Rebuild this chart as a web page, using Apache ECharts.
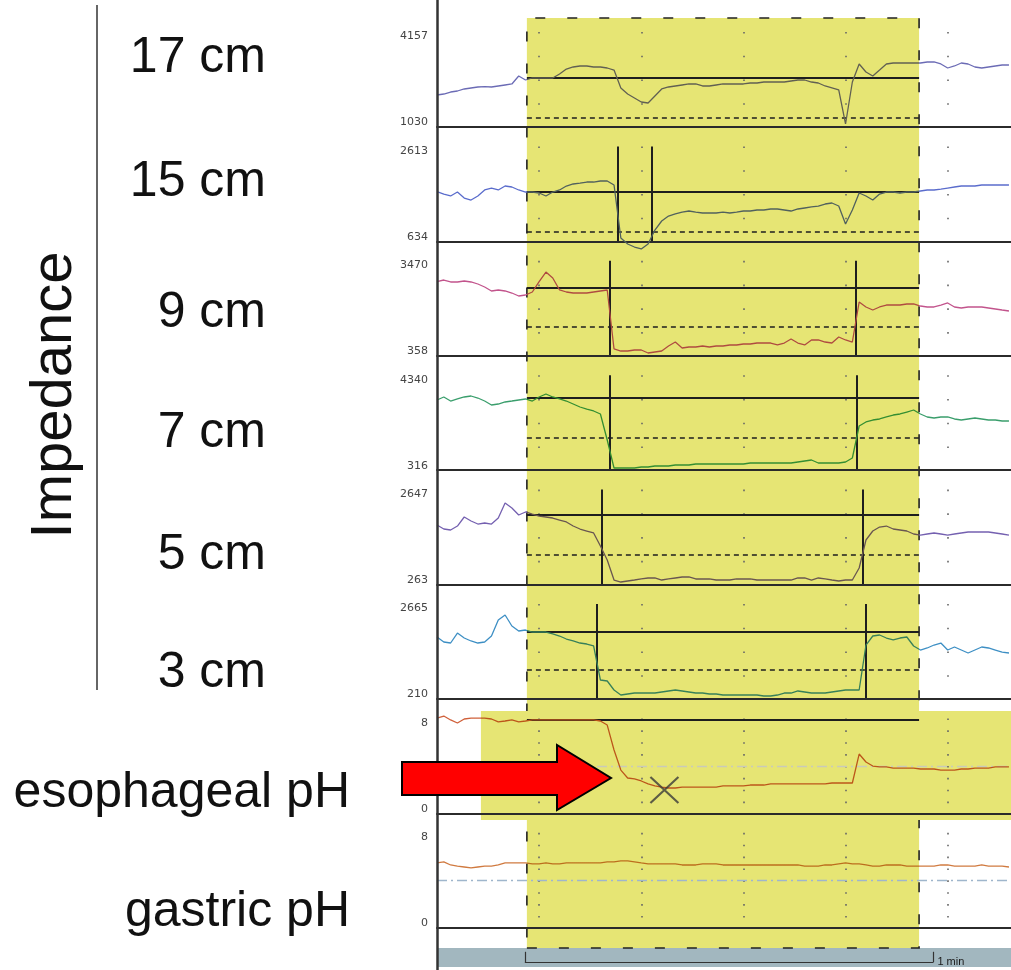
<!DOCTYPE html>
<html><head><meta charset="utf-8">
<script src="https://cdn.jsdelivr.net/npm/echarts@6/dist/echarts.min.js"></script>
<style>html,body{margin:0;padding:0;background:#fff}#c{width:1011px;height:970px}</style>
</head><body><div id="c"></div>
<script>
// ---- data (time in seconds) ----
const time = [0,1,2,3,4,5,6,7,8,9,10,11,12,13,14,15,16,17,18,19,20,21,22,23,24,25,26,27,28,29,30,31,32,33,34,35,36,37,38,39,40,41,42,43,44,45,46,47,48,49,50,51,52,53,54,55,56,57,58,59,60,61,62,63,64,65,66,67,68,69,70,71,72,73,74,75,76,77,78,79,80,81,82,83,84];
const imp17 = [2083,2116,2182,2215,2281,2314,2347,2357,2347,2380,2413,2446,2709,2577,2643,2643,2643,2643,2775,2939,3005,3038,3038,3005,3005,2972,2906,2314,2116,1985,1853,1820,2051,2281,2347,2380,2413,2446,2446,2380,2380,2413,2446,2446,2446,2446,2478,2478,2511,2511,2511,2511,2544,2577,2577,2511,2478,2380,2314,2248,1129,2511,3104,2841,2709,2906,3104,3137,3137,3137,3137,3137,3170,3170,3104,2972,3038,3137,3104,3005,2972,3005,3038,3071,3071];
const imp15 = [1669,1621,1580,1663,1538,1496,1580,1705,1746,1705,1788,1767,1705,1663,1663,1642,1580,1663,1705,1788,1830,1850,1871,1871,1892,1892,1809,705,580,517,476,580,871,1059,1163,1205,1246,1267,1246,1226,1226,1226,1246,1226,1246,1267,1267,1288,1288,1309,1309,1288,1267,1309,1330,1351,1371,1413,1434,1371,996,1288,1642,1580,1496,1621,1663,1663,1642,1663,1663,1684,1705,1705,1725,1746,1767,1788,1788,1788,1809,1809,1809,1809,1809];
const imp9 = [2785,2841,2776,2776,2808,2776,2710,2612,2481,2514,2481,2415,2317,2350,2448,2785,3103,2907,2514,2448,2415,2415,2415,2448,2481,2514,581,515,515,548,548,450,482,515,679,810,614,646,646,679,646,679,679,712,712,745,745,777,777,777,712,777,908,777,712,876,876,810,777,974,876,810,2120,1957,1858,1957,2022,2022,2022,2055,2055,1989,1957,1957,2022,2088,1957,1924,1957,1957,1957,1924,1891,1858,1826];
const imp7 = [3290,3417,3247,3332,3417,3459,3374,3247,3078,3120,3205,3247,3290,3332,3247,3417,3544,3417,3332,3247,3120,2993,2908,2824,2697,1595,409,409,409,409,452,452,494,494,494,536,536,536,579,579,579,579,579,579,579,579,621,621,621,621,621,621,621,663,706,748,621,621,621,621,663,833,2188,2358,2442,2485,2570,2654,2697,2781,2866,2697,2570,2527,2570,2570,2485,2442,2485,2527,2485,2442,2442,2400,2400];
const imp5 = [1758,1658,1633,1733,1959,1859,1783,1809,1783,1934,2310,2185,2009,2085,2034,1984,1959,1934,1884,1834,1733,1658,1608,1558,1231,880,378,328,353,378,404,429,429,378,404,429,454,454,404,404,404,378,378,378,404,404,404,378,378,378,378,378,378,429,429,378,429,404,378,353,378,378,680,1382,1608,1708,1733,1658,1633,1608,1533,1507,1533,1558,1533,1507,1533,1558,1583,1583,1583,1583,1558,1533,1507];
const imp3 = [1812,1683,1657,1915,1786,1709,1657,1683,1838,2251,2381,2096,1967,1993,1941,1941,1941,1890,1838,1760,1709,1657,1631,1580,701,675,443,313,339,365,365,365,365,391,417,443,417,391,365,365,339,339,313,313,313,313,313,313,288,288,313,365,365,417,391,365,365,365,391,417,443,443,443,1605,1838,1864,1786,1735,1786,1812,1580,1476,1528,1605,1657,1476,1554,1476,1399,1476,1554,1528,1476,1424,1399];
const phEso = [8.03,8.2,7.87,7.61,7.95,8.03,8.03,8.03,7.95,7.7,7.78,7.87,7.7,7.78,7.87,7.87,7.87,7.87,7.87,7.87,7.87,7.87,7.87,7.87,7.78,7.44,5.34,3.65,2.98,2.9,2.73,2.48,2.31,2.22,2.14,2.14,2.22,2.22,2.22,2.22,2.22,2.22,2.31,2.31,2.31,2.31,2.39,2.39,2.39,2.48,2.48,2.48,2.48,2.48,2.48,2.48,2.48,2.48,2.56,2.56,2.56,2.56,5.0,4.33,3.99,3.91,3.91,3.82,3.82,3.82,3.82,3.74,3.74,3.74,3.65,3.65,3.65,3.74,3.74,3.82,3.82,3.82,3.91,3.91,3.91];
const phGas = [5.46,5.55,5.29,5.2,5.12,5.04,5.12,5.2,5.2,5.29,5.46,5.46,5.46,5.46,5.38,5.38,5.46,5.38,5.38,5.46,5.46,5.46,5.46,5.46,5.46,5.55,5.55,5.63,5.63,5.55,5.46,5.38,5.38,5.38,5.38,5.38,5.29,5.29,5.29,5.38,5.38,5.38,5.29,5.29,5.29,5.29,5.29,5.29,5.29,5.29,5.29,5.29,5.29,5.29,5.2,5.2,5.2,5.29,5.29,5.38,5.46,5.38,5.38,5.29,5.2,5.2,5.29,5.29,5.29,5.2,5.2,5.2,5.2,5.2,5.29,5.29,5.2,5.2,5.2,5.2,5.29,5.2,5.2,5.2,5.12];

const channelLabels = ['17 cm','15 cm','9 cm','7 cm','5 cm','3 cm','esophageal pH','gastric pH'];
const yMin = [1030,634,358,316,263,210,0,0];
const yMax = [4157,2613,3470,4340,2647,2665,8,8];
const baselineImp = [2643,1663,2579,3374,2010,1941];   // solid threshold
const halfImp = [1326,832,1301,1680,1006,959];          // 50 % threshold (dashed)
const bolusEntry = [null,26.5,25.3,25.4,24.2,23.5];
const bolusExit  = [null,31.5,61.5,61.6,62.5,62.9];
const eventStart = 13.2, eventEnd = 70.8;   // reflux episode (s)
const phEventStart = 6.45;                  // pH highlight start (s)
const phThreshold = 4;
const crossMark = [33.4, 1.97];
const scaleStart = 12.9, scaleLen = 60, scaleText = '1 min';
const T_MAX = 84.3;

// ---- styling ----
const lineColors = ['#6b6bb5','#5a6ccc','#c2548c','#3a9e6c','#7460b0','#3d8fc4','#d0603a','#d07a40'];
const inColors   = ['#616052','#51615d','#af4b40','#348e31','#695650','#378059','#bc561a','#bc6e1d'];
const YELLOW = '#e6e574';
const FONT = "'Liberation Sans', Arial, sans-serif";
const L = 437, W = 575, H = 95;
const bottoms = [127,241.4,355.8,470.2,584.6,699,813.4,927.8];

const grid = [], xAxis = [], yAxis = [], series = [], visualMap = [];
const data = [imp17, imp15, imp9, imp7, imp5, imp3, phEso, phGas];

for (let i = 0; i < 8; i++) {
  grid.push({left: L, width: W, top: bottoms[i] - H, height: H});
  const isPH = i >= 6;
  xAxis.push({gridIndex: i, type: 'value', min: 0, max: T_MAX, interval: 15, z: 5,
    axisLine: {show: true, onZero: false, lineStyle: {color: '#2b2b2b', width: 2}},
    axisTick: {show: false}, axisLabel: {show: false},
    splitLine: {show: true, showMaxLine: false, showMinLine: false,
      lineStyle: {color: '#666', width: 1.6, type: isPH ? [1.6, 10.275] : [1.6, 22.15]}}});
  const mn = yMin[i], mx = yMax[i];
  const lab = {fontSize: 11, fontFamily: 'DejaVu Sans', color: '#444'};
  yAxis.push({gridIndex: i, type: 'value', min: mn, max: mx, interval: mx - mn, z: 5,
    axisLine: {show: false}, axisTick: {show: false}, splitLine: {show: false},
    axisLabel: Object.assign({margin: 9,
      formatter: v => Math.abs(v - mx) < 1e-6 ? '{t|' + mx + '}' : (Math.abs(v - mn) < 1e-6 ? '{b|' + mn + '}' : ''),
      rich: {t: Object.assign({padding: [9, 0, 0, 0]}, lab), b: Object.assign({padding: [0, 0, 9, 0]}, lab)}}, lab)});

  const ml = [];
  const blk = {color: '#1e1e1e', width: 2, type: 'solid'};
  if (i < 6) {
    ml.push([{coord: [eventStart, baselineImp[i]], lineStyle: blk}, {coord: [eventEnd, baselineImp[i]]}]);
    ml.push([{coord: [eventStart, halfImp[i]], lineStyle: {color: '#1e1e1e', width: 1.6, type: [5, 4]}}, {coord: [eventEnd, halfImp[i]]}]);
    if (bolusEntry[i] != null) ml.push({xAxis: bolusEntry[i], lineStyle: blk});
    if (bolusExit[i] != null) ml.push({xAxis: bolusExit[i], lineStyle: blk});
  } else if (i === 6) {
    ml.push({yAxis: phThreshold, lineStyle: {color: '#c9cbb9', width: 1.3, type: [10, 4, 2, 4]}});
    ml.push([{coord: [eventStart, 7.85], lineStyle: blk}, {coord: [eventEnd, 7.85]}]);
  } else {
    ml.push({yAxis: phThreshold, lineStyle: {color: '#9fb6cc', width: 1.3, type: [10, 4, 2, 4]}});
  }
  series.push({type: 'line', name: channelLabels[i], xAxisIndex: i, yAxisIndex: i,
    data: time.map((t, k) => [t, data[i][k]]), symbol: 'none', showSymbol: false,
    lineStyle: {width: 1.3}, clip: false, z: 6, animation: false,
    markLine: {silent: true, symbol: ['none', 'none'], label: {show: false}, animation: false, data: ml}});
  const hs = i === 6 ? phEventStart : eventStart;
  const he = i === 6 ? 1e9 : eventEnd;
  visualMap.push({type: 'piecewise', show: false, seriesIndex: i, dimension: 0,
    pieces: [{lt: hs, color: lineColors[i]}, {gte: hs, lte: he, color: inColors[i]}, {gt: he, color: lineColors[i]}]});
}

// grid 8: continuous left axis line
grid.push({left: L, width: W, top: 0, height: 970});
xAxis.push({gridIndex: 8, type: 'value', min: 0, max: T_MAX, show: false});
yAxis.push({gridIndex: 8, type: 'value', min: 0, max: 1, axisLine: {show: true, onZero: false, lineStyle: {color: '#333', width: 2.5}},
  axisTick: {show: false}, axisLabel: {show: false}, splitLine: {show: false}, z: 7});
// grid 9: reflux episode highlight
grid.push({left: L, width: W, top: 18, height: 930});
xAxis.push({gridIndex: 9, type: 'value', min: 0, max: T_MAX, show: false});
yAxis.push({gridIndex: 9, type: 'value', min: 0, max: 1, show: false});
// grid 10: pH highlight
grid.push({left: L, width: W, top: 711, height: 109});
xAxis.push({gridIndex: 10, type: 'value', min: 0, max: T_MAX, show: false});
yAxis.push({gridIndex: 10, type: 'value', min: 0, max: 1, show: false});
// grid 11: time scale bar
grid.push({left: L, width: W, top: 948, height: 19, show: true, backgroundColor: '#a2b7bf', borderWidth: 0});
xAxis.push({gridIndex: 11, type: 'value', min: 0, max: T_MAX, show: false});
yAxis.push({gridIndex: 11, type: 'value', min: 0, max: 1, show: false});

series.push({type: 'line', xAxisIndex: 9, yAxisIndex: 9, data: [[eventStart, 0.5]], symbol: 'none', lineStyle: {opacity: 0}, z: 0, animation: false,
  markArea: {silent: true, animation: false, itemStyle: {color: YELLOW, borderColor: '#222', borderWidth: 1.6, borderType: [10, 22]},
    data: [[{xAxis: eventStart}, {xAxis: eventEnd}]]}});
series.push({type: 'line', xAxisIndex: 10, yAxisIndex: 10, data: [[phEventStart, 0.5]], symbol: 'none', lineStyle: {opacity: 0}, z: 1, animation: false,
  markArea: {silent: true, animation: false, itemStyle: {color: YELLOW, borderWidth: 0},
    data: [[{xAxis: phEventStart}, {xAxis: T_MAX}]]}});
series.push({type: 'line', xAxisIndex: 11, yAxisIndex: 11, data: [[scaleStart, 0.25]], symbol: 'none', lineStyle: {opacity: 0}, z: 6, animation: false,
  markLine: {silent: true, symbol: ['none', 'none'], animation: false, lineStyle: {color: '#333', width: 1.2, type: 'solid'},
    data: [
      [{coord: [scaleStart, 0.25], label: {show: true, position: 'end', formatter: scaleText, fontSize: 11, color: '#1a1a1a', fontFamily: FONT, distance: 4}}, {coord: [scaleStart + scaleLen, 0.25]}],
      [{coord: [scaleStart, 0.25], label: {show: false}}, {coord: [scaleStart, 0.8]}],
      [{coord: [scaleStart + scaleLen, 0.25], label: {show: false}}, {coord: [scaleStart + scaleLen, 0.8]}]
    ]}});
// cross mark on esophageal pH
series.push({type: 'scatter', xAxisIndex: 6, yAxisIndex: 6, data: [crossMark], symbol: 'path://M0,0L10,10M10,0L0,10',
  symbolSize: [28, 26], itemStyle: {color: 'rgba(0,0,0,0)', borderColor: '#3a3a3a', borderWidth: 2}, z: 8, animation: false, silent: true});

// left labels
const labelY = [58, 182, 313, 433, 555, 673, 793, 912];
const labelX = [266, 266, 266, 266, 266, 266, 350, 350];
const graphic = [];
channelLabels.forEach((t, i) => graphic.push({type: 'text', x: labelX[i], y: labelY[i], z: 10,
  style: {text: t, font: '50px ' + FONT, fill: '#111', textAlign: 'right', textVerticalAlign: 'middle'}}));
graphic.push({type: 'text', x: 55, y: 395, rotation: Math.PI / 2, z: 10,
  style: {text: 'Impedance', font: '58px ' + FONT, fill: '#111', textAlign: 'center', textVerticalAlign: 'middle'}});
graphic.push({type: 'line', z: 10, shape: {x1: 97, y1: 5, x2: 97, y2: 690}, style: {stroke: '#333', lineWidth: 1.5}});
graphic.push({type: 'polygon', z: 20, shape: {points: [[402, 762], [557, 762], [557, 745], [611, 778], [557, 810], [557, 795], [402, 795]]},
  style: {fill: '#ff0000', stroke: '#000', lineWidth: 2}});

const chart = echarts.init(document.getElementById('c'), null, {renderer: 'canvas'});
chart.setOption({backgroundColor: '#fff', animation: false, grid, xAxis, yAxis, series, visualMap, graphic});
</script></body></html>
